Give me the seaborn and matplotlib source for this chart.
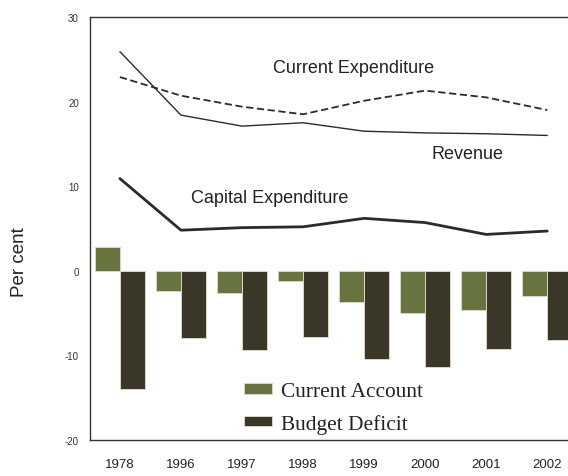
import matplotlib
matplotlib.use('Agg')
import matplotlib.pyplot as plt
import numpy as np
import pandas as pd
import seaborn as sns

years = ['1978', '1996', '1997', '1998', '1999', '2000', '2001', '2002']
current_account = [2.8, -2.4, -2.6, -1.2, -3.7, -5.0, -4.6, -3.0]
budget_deficit = [-14.0, -8.0, -9.4, -7.8, -10.4, -11.4, -9.3, -8.2]
revenue = [25.9, 18.4, 17.1, 17.5, 16.5, 16.3, 16.2, 16.0]
current_exp = [22.9, 20.7, 19.4, 18.5, 20.1, 21.3, 20.5, 19.0]
capital_exp = [10.9, 4.8, 5.1, 5.2, 6.2, 5.7, 4.3, 4.7]

bars = pd.DataFrame({
    'year': years * 2,
    'value': current_account + budget_deficit,
    'series': ['Current Account'] * len(years) + ['Budget Deficit'] * len(years),
})

sns.set_style('white')
plt.rcParams['font.family'] = ['Liberation Sans', 'DejaVu Sans']
plt.rcParams['axes.unicode_minus'] = False

fig = plt.figure(figsize=(5.68, 4.77), dpi=100)
ax = fig.add_axes([90 / 568, 1 - 441 / 477, 1 - 90 / 568, (441 - 18) / 477])

sns.barplot(data=bars, x='year', y='value', hue='series', order=years,
            palette=['#6d7c38', '#3d3926'], width=0.82, gap=0,
            edgecolor='#d9d6c4', linewidth=0.7, ax=ax)

x = np.arange(len(years))
line_col = '#2b2b2b'
sns.lineplot(x=x, y=revenue, color=line_col, linewidth=1.0, ax=ax)
sns.lineplot(x=x, y=current_exp, color=line_col, linewidth=1.3, ax=ax,
             linestyle=(0, (4, 2)))
sns.lineplot(x=x, y=capital_exp, color=line_col, linewidth=2.0, ax=ax)

ax.text(3.82, 24.0, 'Current Expenditure', fontsize=13, ha='center', va='center', color='#222222')
ax.text(5.70, 13.9, 'Revenue', fontsize=13, ha='center', va='center', color='#222222')
ax.text(2.46, 8.65, 'Capital Expenditure', fontsize=13, ha='center', va='center', color='#222222')

ax.set_xlim(-0.49, 7.34)
ax.set_ylim(-20, 30)
ax.set_yticks([-20, -10, 0, 10, 20, 30])
ax.tick_params(axis='y', length=0, pad=8, labelsize=7, labelcolor='#333333')
ax.tick_params(axis='x', length=0, pad=13, labelsize=9.5, labelcolor='#222222')
ax.set_xlabel('')
ax.set_ylabel('Per cent', fontsize=13.5, color='#222222')
ax.yaxis.set_label_coords((28 - 90) / 478, (441 - 262) / 423)

for side in ['left', 'top', 'bottom']:
    ax.spines[side].set_color('#333333')
    ax.spines[side].set_linewidth(1.0)
ax.spines['right'].set_visible(False)

leg = ax.legend(loc='center left', bbox_to_anchor=(244 / 568, 1 - 409 / 477),
                bbox_transform=fig.transFigure, frameon=False,
                prop={'family': 'Liberation Serif', 'size': 15.4},
                handlelength=1.3, handleheight=0.38, handletextpad=0.45,
                borderpad=0, borderaxespad=0, labelspacing=0.6)
for t in leg.get_texts():
    t.set_color('#222222')

fig.savefig('out.png', dpi=100)
